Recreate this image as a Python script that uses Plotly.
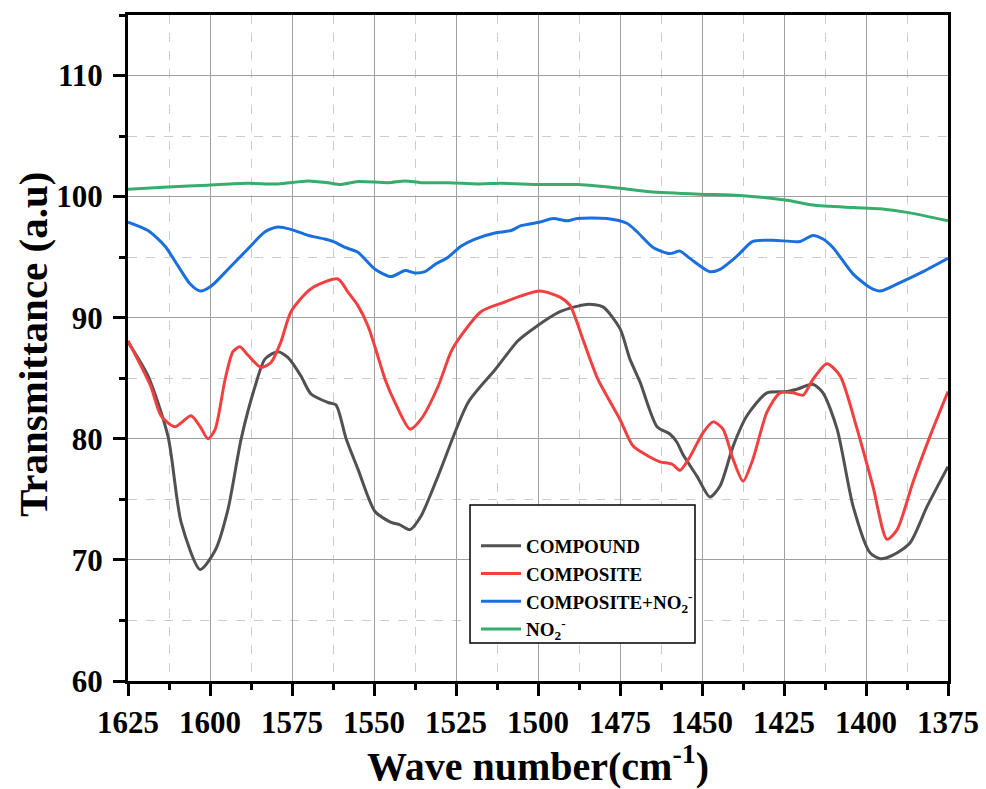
import plotly.graph_objects as go

compound_x = [1625, 1618.9, 1612.8, 1608.8, 1603.0, 1598.4, 1594.5, 1590.5, 1586.3, 1583.2, 1579.3, 1576.2,
              1572.3, 1569.2, 1564.0, 1561.6, 1558.5, 1554.9, 1549.7, 1544.8, 1542.1, 1539.0, 1535.7, 1530.5,
              1521.3, 1513.1, 1506.1, 1500.9, 1493.3, 1485.1, 1480.2, 1475.0, 1472.0, 1468.9, 1463.7, 1459.8,
              1457.6, 1455.8, 1451.5, 1447.6, 1444.5, 1440.5, 1436.3, 1430.2, 1424.1, 1421.0, 1416.2, 1413.1,
              1408.8, 1403.9, 1398.8, 1395.7, 1391.8, 1386.6, 1381.4, 1375]
compound_y = [88.0, 85.2, 80.2, 73.1, 69.2, 70.8, 74.2, 80.0, 84.3, 86.6, 87.2, 86.7,
              85.2, 83.7, 83.0, 82.8, 80.0, 77.5, 74.0, 73.1, 72.9, 72.5, 73.6, 76.9,
              83.0, 85.7, 88.1, 89.2, 90.5, 91.1, 90.9, 89.1, 86.6, 84.7, 81.0, 80.4,
              79.7, 78.7, 76.9, 75.2, 76.1, 79.4, 81.9, 83.8, 83.9, 84.1, 84.5, 83.8,
              80.8, 74.4, 70.6, 70.1, 70.4, 71.4, 74.4, 77.7]

composite_x = [1625, 1621.0, 1618.0, 1614.9, 1610.7, 1605.8, 1603.0, 1600.6, 1598.4, 1595.4, 1593.0, 1590.9,
               1588.4, 1584.5, 1581.4, 1578.4, 1575.3, 1569.2, 1561.0, 1557.9, 1554.9, 1551.8, 1548.8, 1546.6,
               1543.6, 1539.0, 1535.7, 1530.5, 1526.5, 1523.5, 1517.4, 1510.1, 1505.2, 1499.4, 1493.3, 1490.2,
               1486.3, 1481.7, 1475.0, 1471.0, 1465.9, 1462.8, 1459.1, 1456.7, 1453.7, 1449.7, 1446.6, 1443.6,
               1440.5, 1437.5, 1434.5, 1430.2, 1426.2, 1422.3, 1419.2, 1416.2, 1411.9, 1407.9, 1402.7, 1397.9,
               1393.6, 1390.5, 1385.7, 1380.5, 1375]
composite_y = [88.1, 86.0, 84.3, 81.9, 81.0, 81.9, 81.0, 80.0, 80.8, 84.9, 87.2, 87.6,
               86.9, 85.9, 86.3, 88.0, 90.5, 92.4, 93.2, 92.1, 91.0, 89.3, 86.8, 84.9,
               83.0, 80.8, 81.6, 84.3, 87.2, 88.5, 90.5, 91.3, 91.8, 92.2, 91.7, 91.0,
               88.2, 84.9, 81.6, 79.4, 78.5, 78.1, 77.9, 77.4, 78.5, 80.5, 81.4, 80.8,
               78.3, 76.5, 78.3, 82.2, 83.8, 83.8, 83.6, 84.9, 86.2, 85.2, 80.8, 76.1,
               71.7, 72.5, 76.4, 80.2, 83.9]

compno2_x = [1625, 1618.9, 1613.7, 1609.8, 1606.1, 1603.0, 1599.7, 1594.5, 1588.4, 1583.2, 1579.3, 1575.3,
             1570.1, 1565.0, 1562.5, 1558.8, 1554.9, 1549.7, 1544.8, 1540.5, 1537.5, 1534.5, 1531.4, 1527.4,
             1523.5, 1519.2, 1513.1, 1508.2, 1505.2, 1499.4, 1495.4, 1490.9, 1488.1, 1479.0, 1472.9, 1469.8,
             1464.9, 1459.8, 1456.7, 1453.7, 1447.6, 1444.5, 1439.3, 1434.5, 1428.4, 1420.1, 1416.2, 1413.1,
             1410.1, 1403.9, 1398.8, 1395.7, 1389.6, 1382.6, 1375]
compno2_y = [97.9, 97.2, 95.9, 94.3, 92.8, 92.2, 92.6, 94.0, 95.7, 97.1, 97.5, 97.3,
             96.8, 96.5, 96.3, 95.8, 95.4, 94.0, 93.4, 93.9, 93.7, 93.8, 94.4, 95.0,
             95.9, 96.5, 97.0, 97.2, 97.6, 97.9, 98.2, 98.0, 98.2, 98.2, 97.8, 97.1,
             95.8, 95.3, 95.5, 94.9, 93.8, 94.0, 95.1, 96.3, 96.4, 96.3, 96.8, 96.5,
             95.8, 93.6, 92.5, 92.2, 92.9, 93.8, 94.9]

no2_x = [1625, 1612.8, 1600.6, 1588.4, 1579.3, 1570.1, 1564.0, 1560.1, 1554.9, 1545.7, 1540.5, 1535.7,
         1527.4, 1518.3, 1511.3, 1499.4, 1487.8, 1475.0, 1465.9, 1450.6, 1438.4, 1424.1, 1416.2, 1403.9,
         1395.7, 1387.5, 1375]
no2_y = [100.6, 100.8, 100.95, 101.1, 101.05, 101.3, 101.15, 101.0, 101.25, 101.15, 101.3, 101.15,
         101.15, 101.05, 101.1, 101.0, 101.0, 100.7, 100.4, 100.2, 100.1, 99.7, 99.3, 99.1,
         99.0, 98.7, 98.0]

x_ticks = [1625, 1600, 1575, 1550, 1525, 1500, 1475, 1450, 1425, 1400, 1375]
y_ticks = [60, 70, 80, 90, 100, 110]

names = ["COMPOUND", "COMPOSITE", "COMPOSITE+NO<sub>2</sub><sup>-</sup>", "NO<sub>2</sub><sup>-</sup>"]
colors = ["#515151", "#F14040", "#1A6FDF", "#37AD6B"]
xs = [compound_x, composite_x, compno2_x, no2_x]
ys = [compound_y, composite_y, compno2_y, no2_y]

FONT = "Liberation Serif"

fig = go.Figure()
for x, y, n, c in zip(xs, ys, names, colors):
    fig.add_trace(go.Scatter(x=x, y=y, name=n, mode="lines",
                             line=dict(color=c, width=3, shape="spline", smoothing=0.7)))

axis_common = dict(
    showline=True, linecolor="black", linewidth=3, mirror=True,
    ticks="outside", ticklen=12, tickwidth=3, tickcolor="black",
    showgrid=True, gridcolor="#a0a0a0", gridwidth=1,
    zeroline=False, automargin=False,
    tickfont=dict(family=FONT, size=31, color="black", weight="bold"),
)

fig.update_xaxes(
    range=[1625, 1375], tickmode="array", tickvals=x_ticks,
    minor=dict(dtick=12.5, tick0=1375, ticks="outside", ticklen=6, tickwidth=3, tickcolor="black",
               showgrid=True, gridcolor="#cccccc", griddash="dash", gridwidth=1),
    title=dict(text="<b>Wave number(cm<sup>-1</sup>)</b>", font=dict(family=FONT, size=40, color="black")),
    ticklabelstandoff=0,
    **axis_common,
)
fig.update_yaxes(
    range=[60, 115], tickmode="array", tickvals=y_ticks,
    minor=dict(dtick=5, tick0=60, ticks="outside", ticklen=6, tickwidth=3, tickcolor="black",
               showgrid=True, gridcolor="#cccccc", griddash="dash", gridwidth=1),
    ticklabelstandoff=4,
    **axis_common,
)

# y-axis title as rotated annotation for precise placement
fig.add_annotation(text="<b>Transmittance (a.u)</b>", xref="paper", yref="paper",
                   x=(33 - 128) / 820, y=(681 - 345) / 666, xanchor="center", yanchor="middle",
                   textangle=-90, showarrow=False,
                   font=dict(family=FONT, size=41, color="black"))

# legend frame
fig.add_shape(type="rect", xref="paper", yref="paper",
              x0=(470 - 128) / 820, x1=(695 - 128) / 820,
              y0=(681 - 643) / 666, y1=(681 - 505) / 666,
              line=dict(color="black", width=1.5), fillcolor="white", layer="above")

fig.update_layout(
    width=986, height=789,
    margin=dict(l=128, r=38, t=15, b=108),
    plot_bgcolor="white", paper_bgcolor="white",
    legend=dict(x=(476 - 128) / 820, y=(681 - 527) / 666, xanchor="left", yanchor="top",
                bgcolor="rgba(0,0,0,0)", borderwidth=0,
                font=dict(family=FONT, size=19, color="black", weight="bold"),
                itemwidth=40, tracegroupgap=0),
    showlegend=True,
)

fig.write_html("out.html", config={"displayModeBar": False},
               post_script="document.body.style.margin='0';document.body.style.padding='0';")
